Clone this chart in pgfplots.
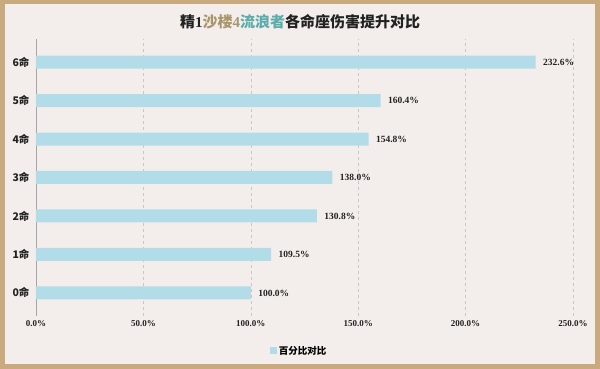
\documentclass[border=0pt]{standalone}
\usepackage{pgfplots}
\pgfplotsset{compat=1.18}
\usepackage{fontspec}
\setmainfont{Liberation Serif}
\newfontfamily\cjk{Noto Sans CJK SC}
\definecolor{frame}{HTML}{C8AA7E}
\definecolor{bgc}{HTML}{F3EEEB}
\definecolor{barc}{HTML}{B2DDE8}
\definecolor{tan}{HTML}{A8956A}
\definecolor{teal}{HTML}{5AADAA}
\definecolor{txt}{HTML}{222222}
\begin{document}
\begin{tikzpicture}[x=1pt,y=1pt]
\fill[frame] (0,0) rectangle (600,369);
\fill[bgc] (5,5) rectangle (595,365);
\path[use as bounding box] (0,0) rectangle (600,369);
\node[font=\bfseries\fontsize{15}{17}\selectfont, text=txt] at (300,347) {{\cjk\bfseries 精}1{\color{tan}{\cjk\bfseries 沙楼}4}{\color{teal}\cjk\bfseries 流浪者}{\cjk\bfseries 各命座伤害提升对比}};
\begin{axis}[
  at={(36pt,53pt)}, anchor=south west,
  scale only axis, width=537pt, height=277pt,
  xmin=0, xmax=250, ymin=-0.6, ymax=6.6,
  xbar, bar width=13pt,
  axis x line*=bottom, axis y line*=left,
  x axis line style={draw=none},
  y axis line style={draw=black!35, line width=0.8pt},
  xtick={0,50,100,150,200,250},
  xticklabels={0.0\%,50.0\%,100.0\%,150.0\%,200.0\%,250.0\%},
  ytick={0,...,6},
  yticklabels={0命,1命,2命,3命,4命,5命,6命},
  yticklabel style={font=\cjk\bfseries\fontsize{10.5}{12}\selectfont, text=txt, xshift=-3pt},
  xticklabel style={font=\bfseries\fontsize{9}{10}\selectfont, text=txt, yshift=-1pt},
  /pgf/number format/assume math mode=true,
  major tick length=0pt,
  xmajorgrids, grid style={draw=black!22, dashed, line width=0.6pt},
  nodes near coords={\pgfmathprintnumber[fixed,fixed zerofill,precision=1]{\pgfplotspointmeta}\%},
  nodes near coords style={font=\bfseries\fontsize{9.5}{11}\selectfont, text=txt, anchor=west, xshift=4pt},
  point meta=explicit,
  clip=false,
  legend style={at={(0.49,-0.095)}, anchor=north, draw=none, fill=none, font=\cjk\bfseries\fontsize{9.5}{11}\selectfont, legend columns=1},
  legend image code/.code={\fill[barc] (0pt,-3pt) rectangle (7pt,4pt);},
]
\addplot[fill=barc, draw=none] coordinates {
  (100.0,0) [100.0]
  (109.5,1) [109.5]
  (130.8,2) [130.8]
  (138.0,3) [138.0]
  (154.8,4) [154.8]
  (160.4,5) [160.4]
  (232.6,6) [232.6]
};
\addlegendentry{百分比对比}
\end{axis}
\end{tikzpicture}
\end{document}
